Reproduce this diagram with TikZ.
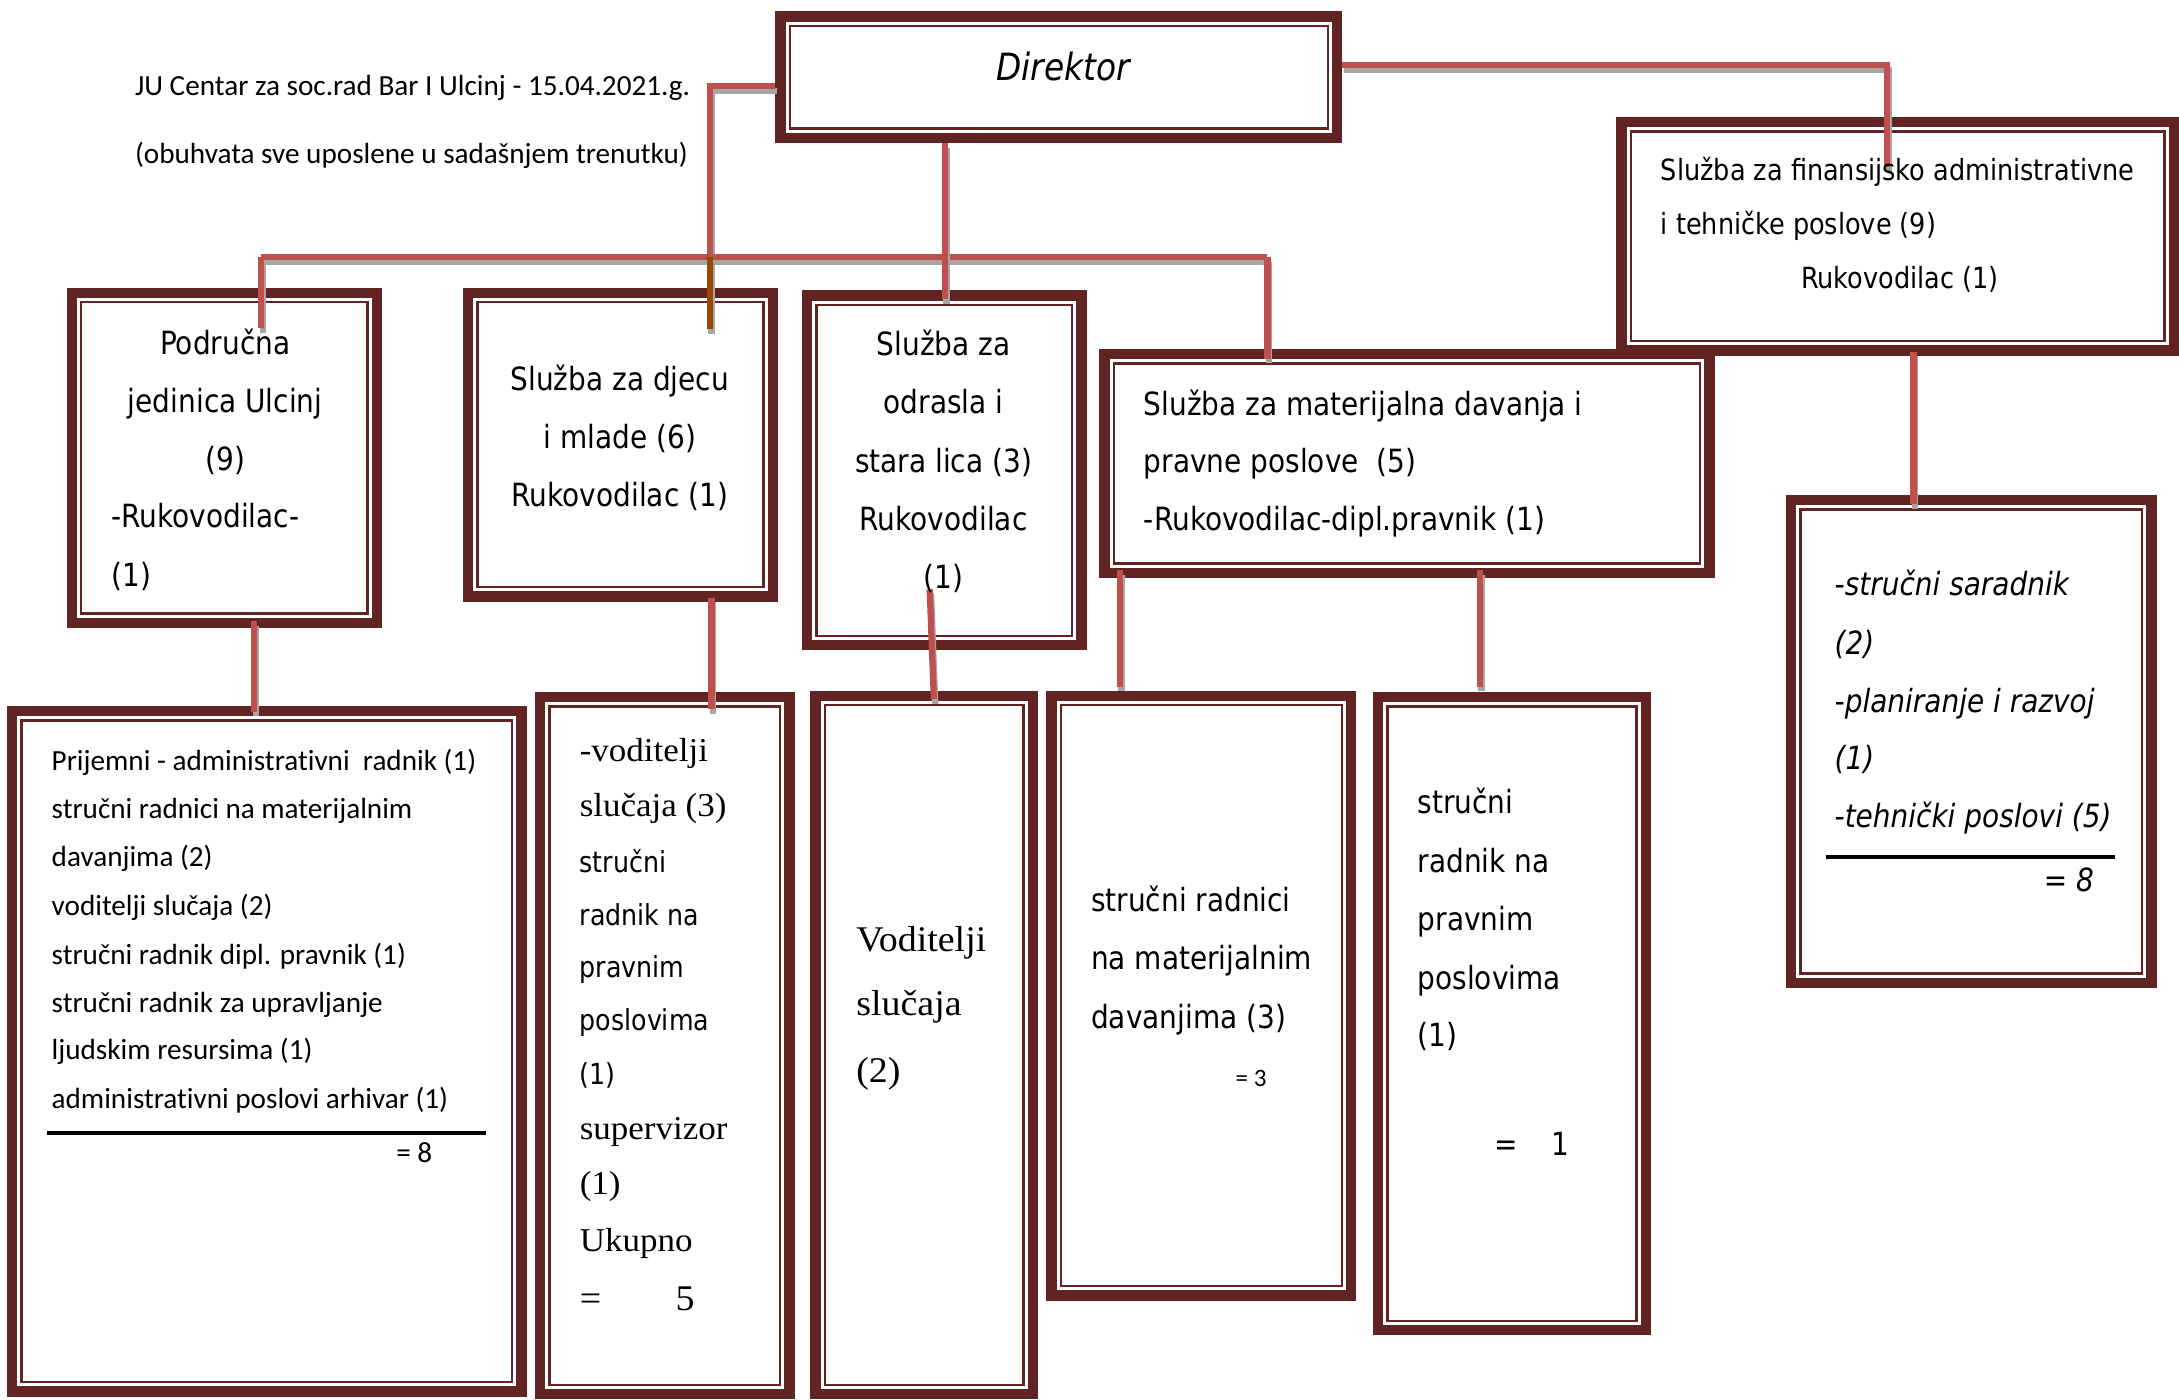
\documentclass[tikz,border=0pt]{standalone}
\usepackage{fontspec}
\setmainfont{DejaVu Sans}
\newfontfamily\tah{DejaVu Sans}[FakeStretch=0.875]
\newfontfamily\calib{Carlito}[Ligatures=NoCommon]
\newfontfamily\camb{Liberation Serif}[FakeStretch=1.05]
\usetikzlibrary{calc}
\definecolor{dark}{HTML}{622423}
\definecolor{conred}{HTML}{C0504D}
\definecolor{conbrown}{HTML}{984806}
\definecolor{shad}{HTML}{A6A6A6}
\tikzset{
  conn/.style={draw=conred, line width=4.5pt,
    preaction={draw=shad, line width=4.5pt, transform canvas={shift={(1pt,-3.5pt)}}}},
  connb/.style={conn, draw=conbrown},
  sx/.style={inner sep=0pt, anchor=mid west, yshift=-5pt, font=\tah\fontsize{23}{27}\selectfont},
  sc/.style={sx, anchor=mid},
  sfin/.style={sx, font=\tah\fontsize{21}{25}\selectfont},
  sit/.style={sx, font=\tah\itshape\fontsize{23}{27}\selectfont},
  ssm/.style={sx, font=\tah\fontsize{20.8}{25}\selectfont},
  tcal/.style={sx, font=\calib\fontsize{21}{25}\selectfont},
  ser/.style={sx, font=\camb\fontsize{24}{28}\selectfont},
  serbig/.style={sx, font=\camb\fontsize{26}{30}\selectfont},
  rule/.style={draw=black, line width=2.8pt},
}
\newcommand\ofrm[5]{%
  \fill[dark] (#2,#3) rectangle (#4,#5);
  \fill[white] ({#2+7.5},{#3+7.5}) rectangle ({#4-7.5},{#5-7.5});
  \draw[dark,line width=1.7pt] ({#2+10.5},{#3+10.5}) rectangle ({#4-10.5},{#5-10.5});
  \node[inner sep=0pt,outer sep=0pt,minimum width={#4-#2},minimum height={#5-#3}] (#1) at ({(#2+#4)/2},{(#3+#5)/2}) {};
}
\begin{document}
\begin{tikzpicture}[x=1pt,y=-1pt]
\useasboundingbox (0,0) rectangle (1568,1007);
\fill[white] (0,0) rectangle (1568,1007);

% boxes
\ofrm{dir}{558}{8}{966}{103}
\ofrm{fin}{1163}{84}{1568}{256}
\ofrm{pod}{48}{207}{275}{452}
\ofrm{dje}{333}{207}{560}{433}
\ofrm{odr}{577}{209}{782}{468}
\ofrm{mat}{791}{251}{1234}{416}
\ofrm{fsub}{1285}{356}{1552}{711}
\ofrm{b1}{5}{508}{379}{1005}
\ofrm{b2}{385}{498}{572}{1007}
\ofrm{b3}{583}{497}{747}{1007}
\ofrm{b4}{753}{497}{976}{936}
\ofrm{b5}{988}{498}{1188}{961}

% junction coordinates
\coordinate (jP) at (188,185);
\coordinate (jL) at (511,185);
\coordinate (jR) at (912,185);
\coordinate (xO) at (680,0);
\coordinate (xF) at (1358,0);
\coordinate (xFS) at (1377,0);
\coordinate (xP) at (183,0);
\coordinate (xD) at (512,0);
\coordinate (xM1) at (806,0);
\coordinate (xM2) at (1065,0);

% connectors
\draw[conn] ($(dir.west)+(0,6.5)$) -| (jL);
\draw[conn] (jP) -- (jR);
\draw[conn] (jP) -- ($(jP |- pod.north)+(0,29)$);
\draw[connb] (jL) -- ($(jL |- dje.north)+(0,30)$);
\draw[conn] (dir.south -| xO) -- ($(odr.north -| xO)+(0,6)$);
\draw[conn] (jR) -- ($(jR |- mat.north)+(0,7)$);
\draw[conn] ($(dir.east)+(0,-8.5)$) -| ($(xF |- fin.north)+(0,36)$);
\draw[conn] ($(fin.south -| xFS)+(0,-3)$) -- ($(fsub.north -| xFS)+(0,7)$);
\draw[conn] ($(pod.south -| xP)+(0,-5)$) -- ($(b1.north -| xP)+(0,4)$);
\draw[conn] ($(dje.south -| xD)+(0,-3)$) -- ($(b2.north -| xD)+(0,12)$);
\draw[conn] ($(odr.south)+(-10.5,-44)$) -- ($(b3.north)+(7,6)$);
\draw[conn] ($(mat.south -| xM1)+(0,-6)$) -- ($(b4.north -| xM1)+(0,-3)$);
\draw[conn] ($(mat.south -| xM2)+(0,-6)$) -- ($(b5.north -| xM2)+(0,-4)$);

% header texts
\node[tcal] (h1) at (97,61) {JU Centar za soc.rad Bar I Ulcinj - 15.04.2021.g.};
\node[tcal] (h2) at (97,110) {(obuhvata sve uposlene u sadašnjem trenutku)};

% Direktor
\node[sc, font=\tah\itshape\fontsize{27}{31}\selectfont] (tdir) at (765,50) {Direktor};

% finance
\node[sfin] (f1) at (1195,122) {Služba za finansijsko administrativne};
\node[sfin] (f2) at (1195,161) {i tehničke poslove (9)};
\node[sfin, anchor=mid] (f3) at (1367,200) {Rukovodilac (1)};

% Podrucna
\node[sc] (p1) at (162,247) {Područna};
\node[sc] (p2) at (162,289) {jedinica Ulcinj};
\node[sc] (p3) at (162,331) {(9)};
\node[sx] (p4) at (80,372) {-Rukovodilac-};
\node[sx] (p5) at (80,414) {(1)};

% Djecu
\node[sc] (d1) at (446,273) {Služba za djecu};
\node[sc] (d2) at (446,315) {i mlade (6)};
\node[sc] (d3) at (446,357) {Rukovodilac (1)};

% Odrasla
\node[sc] (o1) at (679,248) {Služba za};
\node[sc] (o2) at (679,290) {odrasla i};
\node[sc] (o3) at (679,332) {stara lica (3)};
\node[sc] (o4) at (679,374) {Rukovodilac};
\node[sc] (o5) at (679,416) {(1)};

% Materijalna
\node[sx] (m1) at (823,291) {Služba za materijalna davanja i};
\node[sx] (m2) at (823,332) {pravne poslove\ \ (5)};
\node[sx] (m3) at (823,374) {-Rukovodilac-dipl.pravnik (1)};

% finance sub
\node[sit] (s1) at (1320,421) {-stručni saradnik};
\node[sit] (s2) at (1320,463) {(2)};
\node[sit] (s3) at (1320,505) {-planiranje i razvoj};
\node[sit] (s4) at (1320,546) {(1)};
\node[sit] (s5) at (1320,588) {-tehnički poslovi (5)};
\coordinate (sr1) at (1314,617);
\coordinate (sr2) at (1522,617);
\draw[rule] (sr1) -- (sr2);
\node[sit, anchor=mid east] (s6) at (1507,634) {= 8};

% bottom box 1
\node[tcal] (q1) at (37,547) {Prijemni - administrativni\ \ radnik (1)};
\node[tcal] (q2) at (37,581) {stručni radnici na materijalnim};
\node[tcal] (q3) at (37,616) {davanjima (2)};
\node[tcal] (q4) at (37,651) {voditelji slučaja (2)};
\node[tcal] (q5) at (37,686) {stručni radnik dipl. pravnik (1)};
\node[tcal] (q6) at (37,721) {stručni radnik za upravljanje};
\node[tcal] (q7) at (37,755) {ljudskim resursima (1)};
\node[tcal] (q8) at (37,790) {administrativni poslovi arhivar (1)};
\coordinate (qr1) at (34,815);
\coordinate (qr2) at (350,815);
\draw[rule] (qr1) -- (qr2);
\node[tcal] (q9) at (285,829) {= 8};

% bottom box 2
\node[ser] (v1) at (417,540) {-voditelji};
\node[ser] (v2) at (417,580) {slučaja (3)};
\node[ssm] (v3) at (417,620) {stručni};
\node[ssm] (v4) at (417,658) {radnik na};
\node[ssm] (v5) at (417,696) {pravnim};
\node[ssm] (v6) at (417,734) {poslovima};
\node[ssm] (v7) at (417,773) {(1)};
\node[ser] (v8) at (417,812) {supervizor};
\node[ser] (v9) at (417,852) {(1)};
\node[ser] (v10) at (417,893) {Ukupno};
\node[serbig] (v11) at (417,935) {=};
\node[serbig] (v12) at (486,935) {5};

% bottom box 3
\node[serbig] (w1) at (616,677) {Voditelji};
\node[serbig] (w2) at (616,723) {slučaja};
\node[serbig] (w3) at (616,771) {(2)};

% bottom box 4
\node[sx] (r1) at (785,648) {stručni radnici};
\node[sx] (r2) at (785,690) {na materijalnim};
\node[sx] (r3) at (785,732) {davanjima (3)};
\node[tcal, font=\calib\fontsize{18}{22}\selectfont] (r4) at (889,774) {= 3};

% bottom box 5
\node[sx] (u1) at (1020,578) {stručni};
\node[sx] (u2) at (1020,620) {radnik na};
\node[sx] (u3) at (1020,662) {pravnim};
\node[sx] (u4) at (1020,704) {poslovima};
\node[sx] (u5) at (1020,745) {(1)};
\node[sx] (u6) at (1075,824) {=};
\node[sx] (u7) at (1116,824) {1};
\end{tikzpicture}
\end{document}
